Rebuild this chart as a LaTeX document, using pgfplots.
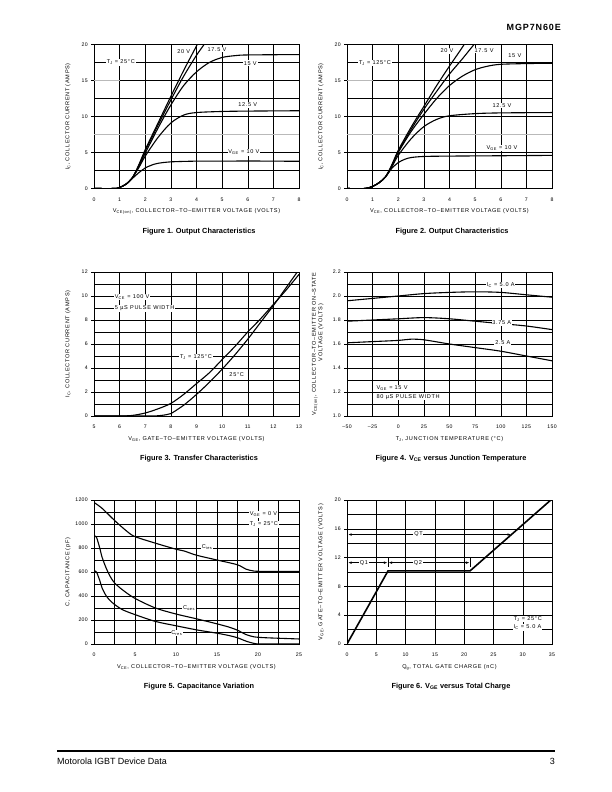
\documentclass[border=0pt]{standalone}
\usepackage{fontspec}
\setmainfont{Liberation Sans}
\newfontfamily\lf{Liberation Sans}[LetterSpace=12]
\newfontfamily\tf{Liberation Sans}[LetterSpace=6]
\newfontfamily\hf{Liberation Sans}[LetterSpace=10]
\usepackage{pgfplots}
\pgfplotsset{compat=1.18}
\usetikzlibrary{arrows.meta}
\newcommand{\sub}[1]{\textsubscript{#1}}
\newcommand{\lab}{\lf\fontsize{5.6}{6.6}\selectfont}
\newcommand{\tlab}{\tf\fontsize{5.2}{6}\selectfont}
\newcommand{\figcap}{\fontsize{7.4}{9}\selectfont\bfseries}
\tikzset{lbl/.style={fill=white, inner sep=0.8bp, font=\lab}}
\pgfplotsset{
  ds/.style={
    scale only axis, width=205bp, height=144bp,
    axis line style={line width=0.9bp},
    grid=both,
    major grid style={black, line width=0.35bp},
    minor grid style={black, line width=0.35bp},
    xtick pos=bottom, ytick pos=left,
    tick align=outside, major tick length=3bp, minor tick length=0pt,
    xtick style={draw=none},
    ytick style={black, line width=0.35bp},
    ticklabel style={font=\tlab, inner sep=0pt},
    xticklabel style={yshift=-6bp},
    yticklabel style={xshift=-3bp},
    /pgf/number format/assume math mode=true,
    /pgf/number format/1000 sep={},
    label style={font=\lab},
    xlabel style={at={(axis description cs:0.5,-0.16)}, anchor=center},
    ylabel style={at={(axis description cs:-0.127,0.5)}, anchor=center},
    every axis plot/.append style={black, line width=1.1bp, mark=none},
  },
}
\begin{document}
\begin{tikzpicture}
\fill[white] (0,0) rectangle (612bp,-792bp);
\path[use as bounding box] (0,0) rectangle (612bp,-792bp);

% header
\node[anchor=east, font=\hf\fontsize{9}{10}\selectfont\bfseries, inner sep=0pt] at (561bp,-27.7bp) {MGP7N60E};

% ---------------- Figure 1 ----------------
\begin{axis}[ds, at={(94bp,-44.5bp)}, anchor=north west,
  xmin=0, xmax=8, ymin=0, ymax=20,
  xtick={0,...,8}, ytick={0,5,...,20}, minor y tick num=1,
  xlabel={V\sub{CE(on)}, COLLECTOR–TO–EMITTER VOLTAGE (VOLTS)},
  ylabel={I\sub{C}, COLLECTOR CURRENT (AMPS)}]
\draw[gray!55, line width=0.5bp] (axis cs:0,7.5) -- (axis cs:8,7.5);
\draw[gray!55, line width=0.5bp] (axis cs:0,15) -- (axis cs:1,15);
\addplot[smooth] coordinates {(0,0)(0.8,0)(1.0,0.15)(1.25,0.6)(1.5,1.4)(1.75,2.2)(2,2.85)(2.25,3.25)(2.5,3.5)(3,3.7)(4,3.8)(5,3.8)(6,3.82)(7,3.8)(8,3.78)};
\addplot[smooth] coordinates {(0,0)(0.8,0)(1.0,0.15)(1.25,0.6)(1.5,1.5)(1.75,2.9)(2,4.5)(2.5,7.1)(3,9.1)(3.5,10.2)(4,10.55)(5,10.7)(6,10.75)(8,10.8)};
\addplot[smooth] coordinates {(0,0)(0.8,0)(1.0,0.15)(1.25,0.6)(1.5,1.5)(1.75,3.1)(2,4.9)(2.5,8.4)(3,11.6)(3.5,14.3)(4,16.2)(4.5,17.5)(5,18.2)(5.5,18.45)(6,18.55)(8,18.6)};
\addplot[smooth] coordinates {(0,0)(0.8,0)(1.0,0.15)(1.25,0.6)(1.5,1.5)(1.75,3.2)(2,5.2)(2.5,8.8)(3,12.3)(3.5,15.6)(4,18.5)(4.4,20.5)};
\addplot[smooth] coordinates {(0,0)(0.8,0)(1.0,0.15)(1.25,0.6)(1.5,1.5)(1.75,3.3)(2,5.4)(2.5,9.1)(3,12.8)(3.5,16.4)(4,19.8)(4.1,20.5)};
\node[lbl] at (axis cs:1.05,17.5) {T\sub{J} = 25°C};
\node[lbl] at (axis cs:3.5,19.0) {20 V};
\node[lbl] at (axis cs:4.8,19.3) {17.5 V};
\node[lbl] at (axis cs:6.1,17.4) {15 V};
\node[lbl] at (axis cs:6.0,11.6) {12.5 V};
\node[lbl] at (axis cs:5.85,5.0) {V\sub{GE} = 10 V};
\end{axis}
\node[font=\figcap] at (199bp,-231.5bp) {Figure 1. Output Characteristics};

% ---------------- Figure 2 ----------------
\begin{axis}[ds, at={(347bp,-44.5bp)}, anchor=north west,
  xmin=0, xmax=8, ymin=0, ymax=20,
  xtick={0,...,8}, ytick={0,5,...,20}, minor y tick num=1,
  xlabel={V\sub{CE}, COLLECTOR–TO–EMITTER VOLTAGE (VOLTS)},
  ylabel={I\sub{C}, COLLECTOR CURRENT (AMPS)}]
\draw[gray!55, line width=0.5bp] (axis cs:0,7.5) -- (axis cs:8,7.5);
\draw[gray!55, line width=0.5bp] (axis cs:0,15) -- (axis cs:1,15);
\addplot[smooth] coordinates {(0,0)(0.7,0)(1.0,0.3)(1.25,0.8)(1.5,1.6)(1.75,2.8)(2,3.6)(2.25,4.05)(2.5,4.3)(3,4.45)(4,4.5)(6,4.55)(8,4.6)};
\addplot[smooth] coordinates {(0,0)(0.7,0)(1.0,0.3)(1.25,0.8)(1.5,1.6)(1.75,3.0)(2,4.6)(2.5,6.9)(3,8.6)(3.5,9.6)(4,10.1)(5,10.4)(6,10.5)(8,10.55)};
\addplot[smooth] coordinates {(0,0)(0.7,0)(1.0,0.3)(1.25,0.8)(1.5,1.6)(1.75,3.1)(2,5.0)(2.5,7.9)(3,10.3)(3.5,12.5)(4,14.3)(4.5,15.6)(5,16.5)(5.5,17.0)(6,17.25)(7,17.35)(8,17.4)};
\addplot[smooth] coordinates {(0,0)(0.7,0)(1.0,0.3)(1.25,0.8)(1.5,1.6)(1.75,3.2)(2,5.1)(2.5,8.2)(3,11.0)(3.5,13.5)(4,15.9)(4.5,18.0)(5,20.2)};
\addplot[smooth] coordinates {(0,0)(0.7,0)(1.0,0.3)(1.25,0.8)(1.5,1.6)(1.75,3.3)(2,5.3)(2.5,8.5)(3,11.4)(3.5,14.3)(4,17.0)(4.5,19.6)(4.6,20.2)};
\node[lbl] at (axis cs:1.09,17.4) {T\sub{J} = 125°C};
\node[lbl] at (axis cs:3.9,19.1) {20 V};
\node[lbl] at (axis cs:5.35,19.2) {17.5 V};
\node[lbl] at (axis cs:6.55,18.4) {15 V};
\node[lbl] at (axis cs:6.05,11.5) {12.5 V};
\node[lbl] at (axis cs:6.05,5.6) {V\sub{GE} = 10 V};
\end{axis}
\node[font=\figcap] at (452bp,-231.5bp) {Figure 2. Output Characteristics};

% ---------------- Figure 3 ----------------
\begin{axis}[ds, at={(94bp,-272bp)}, anchor=north west,
  xmin=5, xmax=13, ymin=0, ymax=12,
  xtick={5,...,13}, ytick={0,2,...,12}, minor y tick num=1,
  xlabel={V\sub{GE}, GATE–TO–EMITTER VOLTAGE (VOLTS)},
  ylabel={I\sub{C}, COLLECTOR CURRENT (AMPS)}]
\addplot[smooth] coordinates {(5,0)(6,0)(6.5,0.05)(7,0.25)(7.5,0.6)(8,1.05)(8.5,1.8)(9,2.7)(9.5,3.6)(10,4.7)(10.5,5.8)(11,7.0)(11.5,8.1)(12,9.3)(12.5,10.5)(13,11.8)};
\addplot[smooth] coordinates {(5,0)(7,0)(7.5,0.02)(7.8,0.1)(8,0.2)(8.5,0.9)(9,1.8)(9.5,2.8)(10,3.9)(10.5,5.1)(11,6.4)(11.5,7.8)(12,9.2)(12.5,10.7)(13,12.2)};
\node[lbl, anchor=west] at (axis cs:5.78,9.9) {V\sub{CE} = 100 V};
\node[lbl, anchor=west] at (axis cs:5.78,8.95) {5 µS PULSE WIDTH};
\node[lbl] at (axis cs:8.98,4.9) {T\sub{J} = 125°C};
\node[lbl] at (axis cs:10.57,3.47) {25°C};
\end{axis}
\node[font=\figcap] at (199bp,-458.5bp) {Figure 3. Transfer Characteristics};

% ---------------- Figure 4 ----------------
\begin{axis}[ds, at={(347bp,-272bp)}, anchor=north west,
  xmin=-50, xmax=150, ymin=1.0, ymax=2.2,
  xtick={-50,-25,...,150}, xticklabels={–50,–25,0,25,50,75,100,125,150},
  ytick={1.0,1.2,...,2.21}, minor y tick num=1,
  yticklabel style={/pgf/number format/.cd, fixed, fixed zerofill, precision=1},
  xlabel={T\sub{J}, JUNCTION TEMPERATURE (°C)},
  ylabel style={at={(axis description cs:-0.142,0.5)}},
  ylabel={V\sub{CE(on)}, \begin{tabular}[t]{@{}c@{}}COLLECTOR–TO–EMITTER ON–STATE\\VOLTAGE (VOLTS)\end{tabular}}]
\addplot[smooth] coordinates {(-50,1.96)(-25,1.98)(0,2.0)(25,2.02)(50,2.03)(75,2.035)(100,2.03)(125,2.01)(150,1.99)};
\addplot[smooth] coordinates {(-50,1.79)(-25,1.80)(0,1.81)(25,1.82)(50,1.81)(75,1.79)(100,1.77)(125,1.75)(150,1.72)};
\addplot[smooth] coordinates {(-50,1.61)(-25,1.62)(0,1.63)(12,1.64)(25,1.635)(50,1.60)(75,1.57)(100,1.54)(125,1.50)(150,1.46)};
\node[lbl] at (axis cs:100,2.09) {I\sub{C} = 5.0 A};
\node[lbl] at (axis cs:101,1.775) {3.75 A};
\node[lbl] at (axis cs:102,1.61) {2.5 A};
\node[lbl, anchor=west] at (axis cs:-22,1.23) {V\sub{GE} = 15 V};
\node[lbl, anchor=west] at (axis cs:-22,1.16) {80 µS PULSE WIDTH};
\end{axis}
\node[font=\figcap] at (451bp,-458.5bp) {Figure 4. V\sub{CE} versus Junction Temperature};

% ---------------- Figure 5 ----------------
\begin{axis}[ds, at={(94bp,-500bp)}, anchor=north west,
  xmin=0, xmax=25, ymin=0, ymax=1200,
  xtick={0,5,...,25}, minor x tick num=1,
  ytick={0,200,...,1200}, minor y tick num=1,
  xlabel={V\sub{CE}, COLLECTOR–TO–EMITTER VOLTAGE (VOLTS)},
  ylabel={C, CAPACITANCE (pF)}]
\addplot[smooth] coordinates {(0,1180)(1,1130)(2.5,1030)(4,940)(5,895)(7.5,840)(10,790)(11,775)(12.5,740)(15,700)(17.5,660)(18.5,625)(19.5,608)(21,605)(25,605)};
\addplot[smooth] coordinates {(0,900)(0.3,890)(0.7,800)(1,720)(1.5,630)(2,560)(2.5,510)(3.5,450)(5,380)(7.5,300)(10,250)(12.5,210)(15,168)(16.5,140)(17.5,115)(18.5,80)(19.5,60)(21,52)(25,42)};
\addplot[smooth] coordinates {(0,610)(0.3,600)(0.7,530)(1,465)(1.5,400)(2,360)(2.5,330)(3.5,285)(5,245)(7.5,188)(10,152)(12.5,118)(15,90)(16.5,70)(17.5,52)(18.5,25)(19.5,5)(20.5,0)(25,0)};
\node[lbl] at (axis cs:13.8,804) {C\sub{ies}};
\node[lbl] at (axis cs:11.6,301) {C\sub{oes}};
\node[lbl] at (axis cs:10.1,92) {C\sub{res}};
\node[lbl, anchor=west] at (axis cs:18.9,1080) {V\sub{GE} = 0 V};
\node[lbl, anchor=west] at (axis cs:18.9,996) {T\sub{J} = 25°C};
\end{axis}
\node[font=\figcap] at (199bp,-686.5bp) {Figure 5. Capacitance Variation};

% ---------------- Figure 6 ----------------
\begin{axis}[ds, at={(347bp,-500bp)}, anchor=north west,
  xmin=0, xmax=35, ymin=0, ymax=20,
  xtick={0,5,...,35}, ytick={0,4,...,20}, minor y tick num=1,
  xlabel={Q\sub{g}, TOTAL GATE CHARGE (nC)},
  ylabel={V\sub{GE}, GATE–TO–EMITTER VOLTAGE (VOLTS)}]
\addplot[line width=1.6bp] coordinates {(0,0)(7,10.15)(21,10.15)(34.8,20)};
\draw[line width=0.5bp, {Latex[length=3.5bp,width=2.5bp]}-{Latex[length=3.5bp,width=2.5bp]}] (axis cs:0.2,15.2) -- (axis cs:28.0,15.2);
\node[lbl] at (axis cs:12.2,15.2) {QT};
\draw[line width=0.5bp, {Latex[length=3.5bp,width=2.5bp]}-{Latex[length=3.5bp,width=2.5bp]}] (axis cs:0.2,11.3) -- (axis cs:6.9,11.3);
\node[lbl] at (axis cs:2.9,11.3) {Q1};
\draw[line width=0.5bp, {Latex[length=3.5bp,width=2.5bp]}-{Latex[length=3.5bp,width=2.5bp]}] (axis cs:7.1,11.3) -- (axis cs:20.9,11.3);
\node[lbl] at (axis cs:12.1,11.3) {Q2};
\draw[line width=0.6bp] (axis cs:7,10.7) -- (axis cs:7,11.9);
\draw[line width=0.6bp] (axis cs:21,10.7) -- (axis cs:21,11.9);
\node[lbl, anchor=west] at (axis cs:28.3,3.5) {T\sub{J} = 25°C};
\node[lbl, anchor=west] at (axis cs:28.3,2.3) {I\sub{C} = 5.0 A};
\end{axis}
\node[font=\figcap] at (451bp,-686.5bp) {Figure 6. V\sub{GE} versus Total Charge};

% footer
\draw[line width=1.6bp] (57bp,-751bp) -- (555bp,-751bp);
\node[anchor=west, font=\fontsize{9}{11}\selectfont, inner sep=0pt] at (57bp,-761.5bp) {Motorola IGBT Device Data};
\node[anchor=east, font=\fontsize{9}{11}\selectfont, inner sep=0pt] at (555bp,-761.5bp) {3};
\end{tikzpicture}
\end{document}
